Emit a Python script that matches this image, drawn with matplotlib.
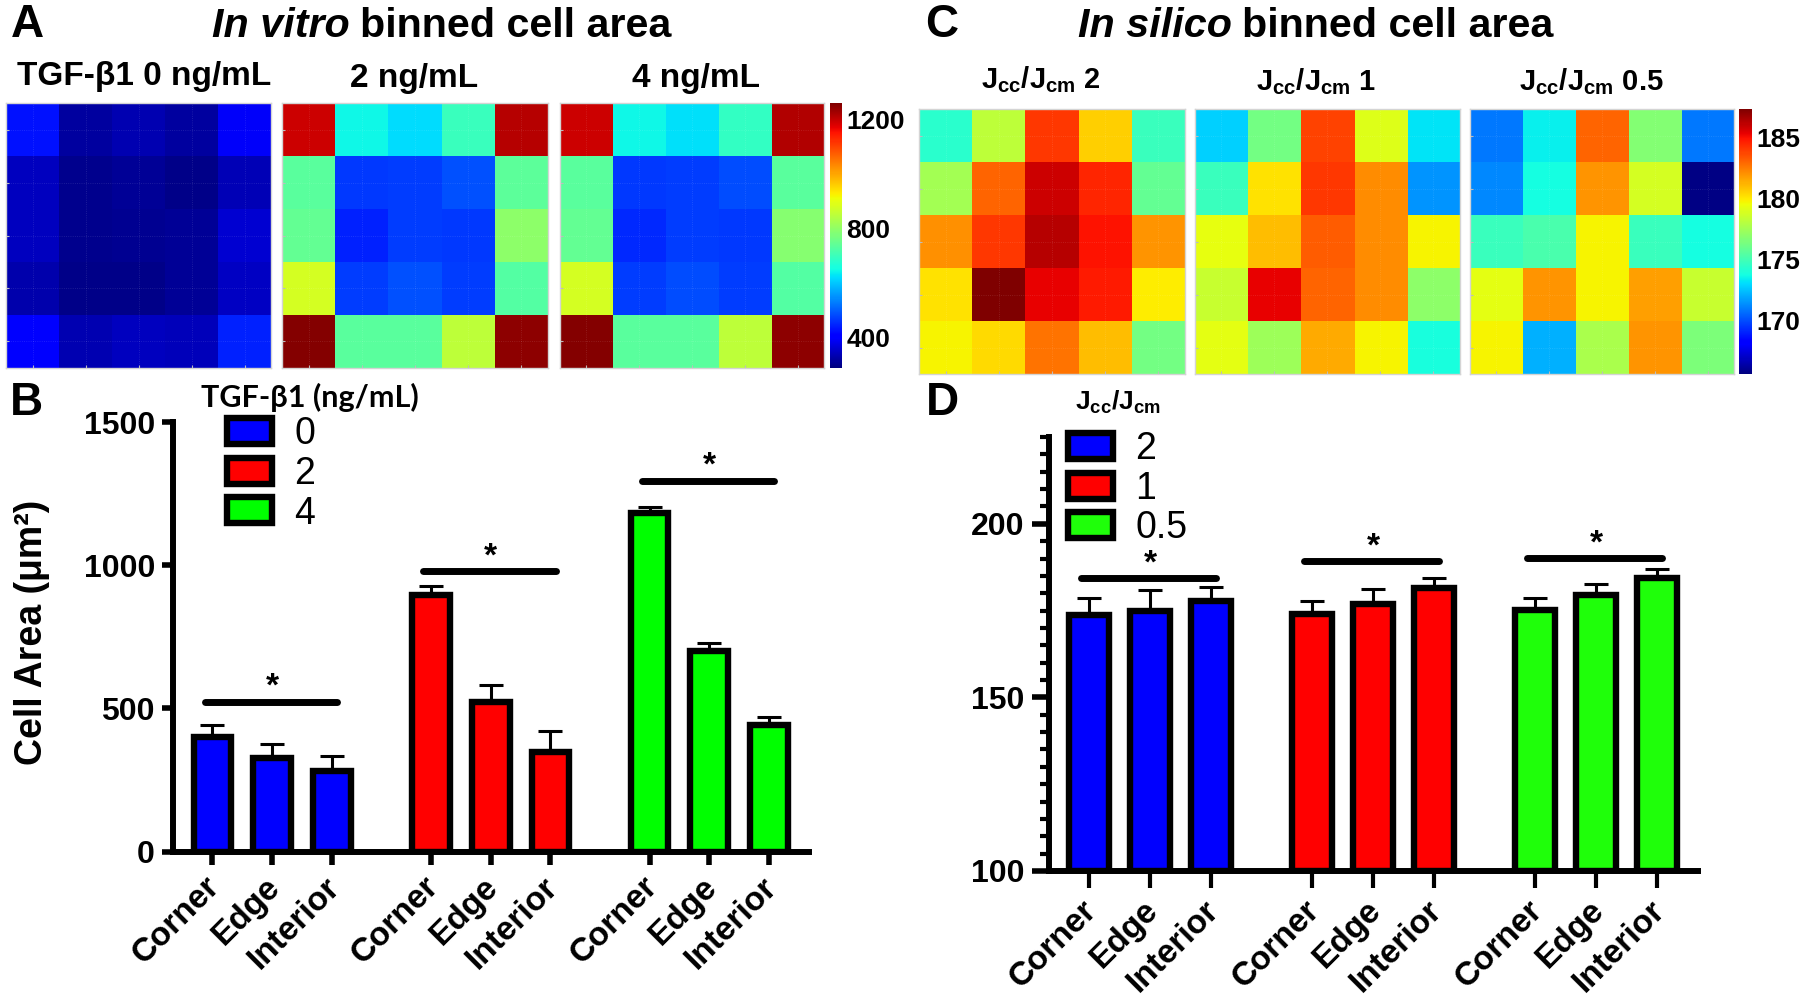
import numpy as np
import matplotlib
matplotlib.use("Agg")
import matplotlib.pyplot as plt
from matplotlib.patches import Patch
from matplotlib.transforms import ScaledTranslation

FIG_W, FIG_H = 1800, 1001

plt.rcParams['font.family'] = ['Liberation Sans', 'DejaVu Sans']
plt.rcParams['mathtext.fontset'] = 'custom'
plt.rcParams['mathtext.bf'] = 'Liberation Sans:bold'
plt.rcParams['mathtext.rm'] = 'Liberation Sans'

# heatmap values
vitro_0 = [[430, 318, 335, 320, 395],
           [345, 302, 312, 298, 338],
           [345, 302, 308, 312, 360],
           [330, 298, 300, 310, 350],
           [400, 335, 345, 340, 445]]
vitro_2 = [[1192, 649, 620, 697, 1212],
           [736, 465, 470, 490, 740],
           [746, 445, 470, 465, 795],
           [880, 470, 490, 470, 727],
           [1255, 735, 735, 853, 1245]]
vitro_4 = [[1192, 649, 625, 690, 1215],
           [736, 465, 470, 485, 735],
           [746, 450, 470, 465, 790],
           [880, 470, 485, 470, 727],
           [1255, 735, 735, 853, 1245]]
silico_2 = [[174.3, 178.2, 184.0, 180.6, 174.7],
            [177.5, 183.0, 185.8, 184.5, 175.8],
            [182.0, 184.0, 186.2, 184.9, 181.9],
            [180.1, 187.3, 185.3, 184.7, 179.9],
            [179.7, 180.3, 182.7, 181.0, 176.2]]
silico_1 = [[172.8, 176.2, 183.8, 179.0, 173.2],
            [174.7, 180.1, 184.0, 182.1, 171.5],
            [179.3, 181.0, 183.2, 182.1, 179.7],
            [178.4, 185.3, 183.0, 182.1, 176.9],
            [179.2, 177.3, 181.4, 179.7, 173.9]]
silico_05 = [[170.9, 173.4, 183.0, 176.7, 170.9],
             [171.2, 173.8, 181.9, 178.8, 165.7],
             [174.7, 175.1, 179.7, 174.7, 173.8],
             [179.2, 181.9, 179.7, 181.7, 178.4],
             [179.7, 172.1, 177.7, 181.9, 176.5]]

# bar values
regions = ['Corner', 'Edge', 'Interior']
tgf_levels = ['0', '2', '4']
area_b = [400, 327, 281, 895, 524, 347, 1181, 700, 443]
err_b = [43, 48, 52, 32, 59, 75, 24, 30, 27]
bracket_b = [523, 980, 1295]
star_b = [600, 1054, 1371]

ratio_levels = ['2', '1', '0.5']
area_d = [173.7, 175.0, 177.7, 174.0, 177.0, 181.6, 175.2, 179.4, 184.4]
err_d = [5.0, 5.8, 4.1, 3.7, 4.3, 2.9, 3.3, 3.3, 2.5]
bracket_d = [184.5, 189.2, 190.2]
star_d = [190.5, 195.4, 196.2]


def axes_px(fig, left, top, right, bottom):
    return fig.add_axes([left / FIG_W, 1 - bottom / FIG_H, (right - left) / FIG_W, (bottom - top) / FIG_H])


def fig_text(fig, x, y, s, **kw):
    kw.setdefault('ha', 'center')
    kw.setdefault('va', 'center')
    return fig.text(x / FIG_W, 1 - y / FIG_H, s, **kw)


def heatmap(fig, values, box, vmin, vmax):
    ax = axes_px(fig, *box)
    im = ax.imshow(values, cmap='jet', vmin=vmin, vmax=vmax, aspect='auto', interpolation='nearest')
    ax.set_xticks(range(5))
    ax.set_yticks(range(5))
    ax.tick_params(length=2, direction='in', color='#bbbbbb', labelleft=False, labelbottom=False)
    ax.grid(color='white', lw=0.6, alpha=0.15, ls=':')
    for s in ax.spines.values():
        s.set_color('#d4d4d4')
        s.set_linewidth(1)
    return im


def colorbar(fig, im, box, ticks, size):
    cax = axes_px(fig, *box)
    cb = fig.colorbar(im, cax=cax)
    cb.set_ticks(ticks)
    cb.outline.set_visible(False)
    cax.tick_params(length=0, pad=3, labelsize=size)
    for lab in cax.get_yticklabels():
        lab.set_fontweight('bold')


def bars(fig, box, values, errs, brackets, stars, colors, ylim, xlim, bar_w, xt_len, xt_w):
    ax = axes_px(fig, *box)
    # three groups of three, 3.66 bar spacings apart
    x = np.array([g * 3.66 + i for g in range(3) for i in range(3)])
    cols = [c for c in colors for _ in range(3)]
    ax.bar(x, np.array(values) - ylim[0], bottom=ylim[0], width=bar_w, color=cols, edgecolor='black', linewidth=4.6, zorder=3)
    ax.errorbar(x, values, yerr=[np.zeros(9), errs], fmt='none', ecolor='black', elinewidth=2.2, capsize=8.3, capthick=2.2, zorder=2)
    for g in range(3):
        ax.plot([g * 3.66 - 0.13, g * 3.66 + 2.09], [brackets[g]] * 2, color='black', lw=5, solid_capstyle='round')
        ax.annotate('*', (g * 3.66 + 1.0, stars[g]), xytext=(0, -5), textcoords='offset points',
                    ha='center', va='center', fontsize=24, fontweight='bold')
    ax.set_xlim(*xlim)
    ax.set_ylim(*ylim)
    ax.set_xticks(x)
    ax.set_xticklabels(regions * 3, rotation=45, ha='right', va='top', rotation_mode='anchor', fontsize=24, fontweight='bold')
    ax.tick_params(axis='x', length=xt_len, width=xt_w, pad=5)
    shift = ScaledTranslation(-8 / 100, 0, fig.dpi_scale_trans)
    for lab in ax.get_xticklabels():
        lab.set_transform(lab.get_transform() + shift)
    ax.tick_params(axis='y', length=8, width=4, labelsize=23, pad=5)
    for lab in ax.get_yticklabels():
        lab.set_fontweight('bold')
    for side in ['top', 'right']:
        ax.spines[side].set_visible(False)
    for side in ['left', 'bottom']:
        ax.spines[side].set_linewidth(4.3)
    return ax


def legend(ax, colors, labels, anchor, spacing):
    handles = [Patch(facecolor=c, edgecolor='black', linewidth=4.6) for c in colors]
    ax.legend(handles, labels, loc='upper left', bbox_to_anchor=anchor, bbox_transform=plt.gcf().transFigure,
              frameon=False, fontsize=27, handlelength=1.2, handleheight=0.69, labelspacing=spacing,
              handletextpad=0.6, borderpad=0, borderaxespad=0)


fig = plt.figure(figsize=(FIG_W / 100, FIG_H / 100), dpi=100)

# panel A
im_a = None
a_boxes = [(6.3, 103.3, 271, 367.7), (282.4, 103.3, 547.6, 367.7), (559.7, 103.3, 824.3, 367.7)]
for vals, box in zip([vitro_0, vitro_2, vitro_4], a_boxes):
    im_a = heatmap(fig, vals, box, 290, 1260)
colorbar(fig, im_a, (829.5, 103.3, 842, 367.7), [400, 800, 1200], 19)
fig_text(fig, 144, 77, 'TGF-β1 0 ng/mL', fontsize=24, fontweight='bold')
fig_text(fig, 414.5, 79, '2 ng/mL', fontsize=24, fontweight='bold')
fig_text(fig, 696, 79, '4 ng/mL', fontsize=24, fontweight='bold')

# panel C
im_c = None
c_boxes = [(919, 109, 1184.7, 374), (1194.5, 109, 1459.7, 374), (1469.5, 109, 1734, 374)]
for vals, box in zip([silico_2, silico_1, silico_05], c_boxes):
    im_c = heatmap(fig, vals, box, 165.6, 187.3)
colorbar(fig, im_c, (1739.3, 109, 1752, 374), [170, 175, 180, 185], 19)
ratio = r'J$_{\mathbf{cc}}$/J$_{\mathbf{cm}}$'
fig_text(fig, 1041, 80, ratio + ' 2', fontsize=21, fontweight='bold')
fig_text(fig, 1316, 82, ratio + ' 1', fontsize=21, fontweight='bold')
fig_text(fig, 1591, 82, ratio + ' 0.5', fontsize=21, fontweight='bold')

# panel letters and headings
for s, x, y in [('A', 27, 25), ('B', 26, 403), ('C', 942, 25), ('D', 942, 403)]:
    fig_text(fig, x, y, s, fontsize=33, fontweight='bold')
fig_text(fig, 350, 26, 'In vitro', ha='right', fontsize=29.7, fontweight='bold', fontstyle='italic')
fig_text(fig, 360, 26, 'binned cell area', ha='left', fontsize=29.7, fontweight='bold')
fig_text(fig, 1232, 26, 'In silico', ha='right', fontsize=29.7, fontweight='bold', fontstyle='italic')
fig_text(fig, 1242, 26, 'binned cell area', ha='left', fontsize=29.7, fontweight='bold')

# panel B
ax_b = bars(fig, (173, 422, 809, 851.7), area_b, err_b, bracket_b, star_b,
            ['#0000ff', '#ff0000', '#00ff00'], (0, 1500), (-0.66, 9.99), 0.63, 9, 4)
ax_b.set_yticks([0, 500, 1000, 1500])
ax_b.set_ylabel('Cell Area (μm²)', fontsize=27, fontweight='bold', labelpad=24, y=0.51)
legend(ax_b, ['#0000ff', '#ff0000', '#00ff00'], tgf_levels, (227 / FIG_W, 1 - 416 / FIG_H), 0.1)
fig_text(fig, 310, 397, 'TGF-β1 (ng/mL)', fontsize=22, fontweight='bold', family=['Lato', 'DejaVu Sans'])

# panel D
ax_d = bars(fig, (1049, 437, 1698.4, 871), area_d, err_d, bracket_d, star_d,
            ['#0000ff', '#ff0000', '#1fff0a'], (100, 225), (-0.657, 10.0), 0.65, 12, 3)
ax_d.set_yticks([100, 150, 200])
ax_d.set_yticks(np.arange(105, 226, 5), minor=True)
ax_d.tick_params(axis='y', which='major', length=12.5, width=4)
ax_d.tick_params(axis='y', which='minor', length=6.5, width=3)
legend(ax_d, ['#0000ff', '#ff0000', '#1fff0a'], ratio_levels, (1068 / FIG_W, 1 - 431 / FIG_H), 0.1)
fig_text(fig, 1118, 402, ratio, fontsize=19, fontweight='bold')

fig.savefig('out.png', dpi=100)
